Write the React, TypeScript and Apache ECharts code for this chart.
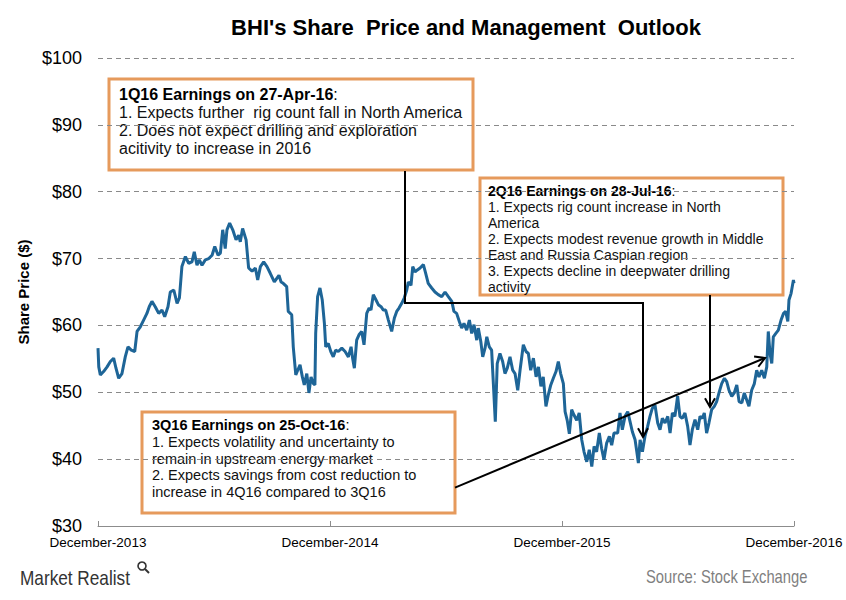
import React, { useEffect, useRef } from "react";
import * as echarts from "echarts";

// Months since December 2013 (x) and BHI share price in $ (y)
const months = [
  0, 0.04, 0.12, 0.29, 0.47, 0.64, 0.81, 0.93, 1.07, 1.24, 1.41, 1.55, 1.72, 1.9, 2.02,
  2.19, 2.36, 2.53, 2.65, 2.79, 2.96, 3.14, 3.31, 3.45, 3.62, 3.74, 3.92, 4.09, 4.21, 4.34,
  4.52, 4.69, 4.86, 4.98, 5.12, 5.24, 5.38, 5.55, 5.73, 5.9, 6.04, 6.21, 6.33, 6.45, 6.58,
  6.67, 6.81, 6.97, 7.14, 7.28, 7.36, 7.48, 7.66, 7.79, 7.97, 8.14, 8.26, 8.4, 8.57, 8.74,
  8.91,
  9.12, 9.24, 9.36, 9.47, 9.58, 9.76, 9.84, 10.02, 10.1, 10.23, 10.33, 10.45, 10.57, 10.67, 10.8,
  10.91, 11.02, 11.14, 11.22, 11.26, 11.36, 11.48, 11.6, 11.71, 11.78, 11.91, 12.04, 12.17, 12.29, 12.43,
  12.61, 12.78, 12.95, 13.09, 13.17, 13.26, 13.38, 13.5, 13.64, 13.76, 13.9, 14.02, 14.12, 14.24, 14.38,
  14.5, 14.64, 14.76, 14.88, 15.02, 15.19, 15.33, 15.45, 15.57, 15.71, 15.84, 15.97, 16.05, 16.19, 16.28,
  16.4, 16.52, 16.66, 16.83, 16.95, 17.08, 17.26, 17.43, 17.6, 17.78,
  17.95, 18.12, 18.3, 18.41, 18.55, 18.69, 18.81, 18.93, 19.07, 19.21, 19.33, 19.45, 19.59, 19.67, 19.8,
  19.9, 20.02, 20.11, 20.24, 20.36, 20.45, 20.55, 20.65, 20.79, 20.93, 21.05, 21.17, 21.31, 21.45, 21.57,
  21.71, 21.83, 22.0, 22.14, 22.26, 22.38, 22.52, 22.66, 22.78, 22.91, 23.03, 23.17, 23.29, 23.42, 23.55,
  23.69, 23.81, 23.93, 24.07, 24.16, 24.27, 24.38, 24.5, 24.62, 24.76, 24.89, 25.02, 25.14, 25.28, 25.41,
  25.54, 25.66, 25.79, 25.93, 26.05, 26.17, 26.31, 26.45, 26.57, 26.69,
  26.88, 27.0, 27.12, 27.26, 27.4, 27.52, 27.64, 27.78, 27.87, 27.95, 28.04, 28.16, 28.29, 28.43, 28.55,
  28.67, 28.81, 28.95, 29.07, 29.19, 29.33, 29.47, 29.59, 29.71, 29.84, 29.98, 30.1, 30.22, 30.36, 30.5,
  30.62, 30.74, 30.88, 31.02, 31.14, 31.26, 31.36, 31.48, 31.6, 31.74, 31.88, 32.0, 32.12, 32.26, 32.4,
  32.52, 32.64, 32.78, 32.91, 33.04, 33.16, 33.3, 33.43, 33.55, 33.67, 33.81, 33.95, 34.07, 34.19, 34.33,
  34.47, 34.59, 34.67, 34.76, 34.85, 34.93, 35.06, 35.19, 35.33, 35.46, 35.57, 35.68, 35.74, 35.85, 35.97,
  36.0,
];

const prices = [
  56.6, 53.8, 52.6, 53.1, 53.8, 54.6, 55.1, 53.6, 52.1, 52.8, 55.3, 56.8, 56.3, 56.1, 59.1,
  59.8, 60.8, 61.8, 62.8, 63.6, 62.8, 61.8, 62.3, 61.3, 62.8, 65.0, 65.3, 63.3, 64.1, 68.8,
  70.3, 69.3, 69.5, 71.0, 69.0, 69.8, 69.0, 69.8, 70.0, 70.5, 71.8, 70.5, 70.8, 74.3, 71.5,
  74.3, 75.3, 74.3, 72.8, 73.5, 72.5, 74.5, 72.8, 68.6, 68.1, 68.6, 66.8, 68.8, 69.5, 68.8,
  67.8,
  66.5, 67.0, 67.5, 66.5, 66.3, 65.8, 62.1, 61.6, 56.8, 52.6, 53.3, 54.1, 52.3, 51.1, 52.8,
  49.9, 52.3, 51.3, 51.1, 58.8, 64.3, 65.6, 63.8, 60.3, 56.8, 57.3, 56.1, 55.3, 56.3, 56.1,
  56.6, 56.1, 55.3, 56.8, 55.1, 53.6, 57.8, 58.6, 59.1, 57.1, 61.8, 62.6, 62.3, 64.6, 63.8,
  63.1, 62.8, 62.3, 62.3, 60.8, 59.1, 61.1, 62.1, 62.6, 63.3, 64.1, 65.3, 66.5, 66.0, 68.8,
  68.0, 68.3, 68.6, 69.1, 67.8, 66.3, 65.6, 65.0, 64.6, 64.3,
  65.0, 64.3, 63.6, 62.1, 61.8, 60.6, 59.6, 60.3, 59.3, 60.8, 58.8, 60.1, 57.8, 59.6, 57.6,
  55.3, 56.6, 58.3, 56.8, 56.3, 51.3, 45.6, 54.3, 55.8, 54.6, 52.8, 53.6, 55.3, 53.3, 52.8,
  50.3, 53.3, 57.1, 56.1, 55.8, 53.3, 55.1, 52.3, 53.8, 50.9, 52.3, 47.9, 49.6, 51.1, 52.1,
  53.1, 54.6, 52.8, 51.3, 47.1, 45.8, 43.8, 47.4, 46.6, 45.8, 46.9, 42.9, 41.1, 39.6, 41.4,
  38.9, 41.9, 41.1, 43.9, 41.6, 39.9, 42.4, 43.4, 42.1, 43.9,
  43.9, 46.9, 44.4, 46.4, 47.1, 45.6, 44.1, 42.9, 41.1, 39.4, 42.9, 41.1, 43.4, 44.9, 46.4,
  47.6, 48.1, 45.4, 44.4, 46.1, 45.4, 46.4, 43.9, 46.9, 46.4, 49.4, 46.4, 46.1, 46.9, 44.9,
  42.1, 44.4, 45.9, 44.4, 46.4, 46.1, 46.9, 43.9, 45.4, 47.4, 47.9, 48.6, 49.9, 51.3, 52.1,
  51.6, 50.3, 49.4, 49.9, 51.1, 48.6, 48.4, 49.9, 48.9, 47.9, 50.3, 51.3, 53.3, 52.3, 53.3,
  52.1, 53.8, 59.1, 55.8, 54.3, 58.3, 58.8, 59.3, 60.8, 61.8, 62.1, 60.6, 63.8, 64.8, 66.8,
  66.3,
];

const xTickLabels = ["December-2013", "December-2014", "December-2015", "December-2016"];

const titleText = "BHI's Share  Price and Management  Outlook";
const yAxisName = "Share Price ($)";

const box1Title = "1Q16 Earnings on 27-Apr-16";
const box1Lines = [
  "1. Expects further  rig count fall in North America",
  "2. Does not expect drilling and exploration",
  "acitivity to increase in 2016",
];
const box2Title = "2Q16 Earnings on 28-Jul-16";
const box2Lines = [
  "1. Expects rig count increase in North",
  "America",
  "2. Expects modest revenue growth in Middle",
  "East and Russia Caspian region",
  "3. Expects decline in deepwater drilling",
  "activity",
];
const box3Title = "3Q16 Earnings on 25-Oct-16";
const box3Lines = [
  "1. Expects volatility and uncertainty to",
  "remain in upstream energy market",
  "2. Expects savings from cost reduction to",
  "increase in 4Q16 compared to 3Q16",
];

const FONT = "'Liberation Sans', Arial, Helvetica, sans-serif";
const ORANGE = "#E69A5C";

function makeBox(
  x: number, y: number, w: number, h: number,
  title: string, lines: string[], tx: number, firstY: number, lh: number, fs: number
) {
  const children: any[] = [
    {
      type: "rect",
      shape: { x, y, width: w, height: h },
      style: { fill: "#ffffff", stroke: ORANGE, lineWidth: 3 },
    },
    {
      type: "text",
      x: tx,
      y: firstY,
      style: {
        text: `{b|${title}}{n|:}`,
        verticalAlign: "middle",
        rich: {
          b: { fontWeight: "bold", fontSize: fs, fontFamily: FONT, fill: "#000" },
          n: { fontSize: fs, fontFamily: FONT, fill: "#000" },
        },
      },
    },
  ];
  lines.forEach((ln, i) => {
    children.push({
      type: "text",
      x: tx,
      y: firstY + lh * (i + 1),
      style: { text: ln, fontSize: fs, fontFamily: FONT, fill: "#111", verticalAlign: "middle" },
    });
  });
  return { type: "group", z: 100, children };
}

function arrowHead(tx: number, ty: number, fx: number, fy: number, len: number) {
  const dx = fx - tx;
  const dy = fy - ty;
  const d = Math.sqrt(dx * dx + dy * dy);
  const ux = dx / d;
  const uy = dy / d;
  const c = Math.cos(Math.PI / 6);
  const s = Math.sin(Math.PI / 6);
  const a1 = [tx + len * (ux * c - uy * s), ty + len * (ux * s + uy * c)];
  const a2 = [tx + len * (ux * c + uy * s), ty + len * (-ux * s + uy * c)];
  return {
    type: "polyline",
    z: 100,
    shape: { points: [a1, [tx, ty], a2] },
    style: { stroke: "#000", lineWidth: 2, fill: null },
  };
}

export default function App() {
  const ref = useRef<HTMLDivElement>(null);

  useEffect(() => {
    if (!ref.current) return;
    const chart = echarts.init(ref.current, undefined, { renderer: "svg" });
    const data = months.map((m, i) => [m, prices[i]]);

    const option: any = {
      animation: false,
      backgroundColor: "#ffffff",
      title: {
        text: titleText,
        left: 461,
        top: 11,
        textAlign: "center",
        textStyle: { fontFamily: FONT, fontWeight: "bold", fontSize: 22, color: "#000" },
      },
      grid: { left: 98, right: 52, top: 58, bottom: 74, containLabel: false },
      xAxis: {
        type: "value",
        min: 0,
        max: 36,
        interval: 12,
        axisLine: { show: true, lineStyle: { color: "#8c8c8c", width: 1 } },
        axisTick: { show: true, inside: true, length: 5, lineStyle: { color: "#8c8c8c" } },
        splitLine: { show: false },
        axisLabel: {
          margin: 9,
          showMinLabel: true,
          showMaxLabel: true,
          fontFamily: FONT,
          fontSize: 13.5,
          color: "#000",
          formatter: (v: number) => xTickLabels[Math.round(v / 12)] ?? "",
        },
      },
      yAxis: {
        type: "value",
        min: 30,
        max: 100,
        interval: 10,
        name: yAxisName,
        nameLocation: "middle",
        nameGap: 58,
        nameTextStyle: { fontFamily: FONT, fontSize: 15, fontWeight: "bold", color: "#000" },
        axisLine: { show: false },
        axisTick: { show: false },
        splitLine: { show: true, lineStyle: { color: "#8a8a8a", type: [5, 4], width: 1 } },
        axisLabel: {
          margin: 16,
          fontFamily: FONT,
          fontSize: 18,
          color: "#000",
          formatter: (v: number) => "$" + v,
        },
      },
      series: [
        {
          type: "line",
          data,
          showSymbol: false,
          symbol: "none",
          lineStyle: { color: "#1E6597", width: 3 },
          z: 2,
        },
      ],
      graphic: [
        // connector lines
        {
          type: "polyline",
          z: 90,
          shape: { points: [[405, 171], [405, 303], [643, 303], [643, 437]] },
          style: { stroke: "#000", lineWidth: 2, fill: null },
        },
        arrowHead(643, 437, 643, 300, 10),
        {
          type: "line",
          z: 90,
          shape: { x1: 710, y1: 295, x2: 710, y2: 407 },
          style: { stroke: "#000", lineWidth: 2 },
        },
        arrowHead(710, 407, 710, 295, 10),
        {
          type: "line",
          z: 90,
          shape: { x1: 455, y1: 487.6, x2: 765, y2: 358 },
          style: { stroke: "#000", lineWidth: 2 },
        },
        arrowHead(765, 358, 455, 487.6, 11),
        makeBox(109, 79, 364, 91, box1Title, box1Lines, 119, 94, 18, 16),
        makeBox(480, 178, 303, 117, box2Title, box2Lines, 488, 191, 16, 14),
        makeBox(142, 412, 313, 101, box3Title, box3Lines, 152, 425, 16.8, 14.5),
        // footer
        {
          type: "text",
          x: 20,
          y: 578,
          scaleX: 0.82,
          style: {
            text: "Market Realist",
            fontFamily: FONT,
            fontSize: 21,
            fill: "#333333",
            verticalAlign: "middle",
          },
        },
        {
          type: "circle",
          shape: { cx: 142, cy: 566, r: 4 },
          style: { fill: "none", stroke: "#333333", lineWidth: 1.6 },
        },
        {
          type: "line",
          shape: { x1: 145, y1: 569, x2: 149, y2: 573 },
          style: { stroke: "#333333", lineWidth: 2 },
        },
        {
          type: "text",
          x: 646,
          y: 576,
          scaleX: 0.82,
          style: {
            text: "Source: Stock Exchange",
            fontFamily: FONT,
            fontSize: 18,
            fill: "#7f7f7f",
            verticalAlign: "middle",
          },
        },
      ],
    };

    chart.setOption(option);
    return () => chart.dispose();
  }, []);

  return (
    <div
      ref={ref}
      style={{ position: "fixed", left: 0, top: 0, width: 846, height: 600, background: "#fff" }}
    />
  );
}
